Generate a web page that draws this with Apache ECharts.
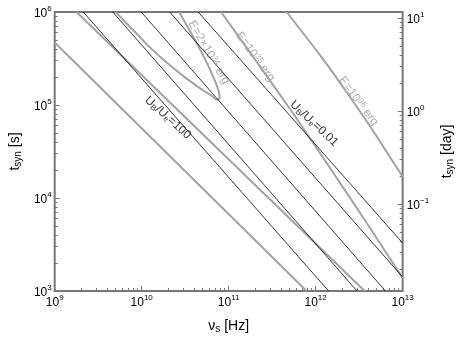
<!DOCTYPE html>
<html>
<head>
<meta charset="utf-8">
<script src="https://cdn.jsdelivr.net/npm/echarts@6/dist/echarts.min.js"></script>
</head>
<body style="margin:0;background:#fff">
<div id="chart" style="width:463px;height:341px"></div>
<script>
// values: [nu_s in Hz, t_syn in s]
// black lines of constant U_B/U_e (100, 10, 1, 0.1, 0.01)
var ratioLines = [
  [[2.13e9, 1e6], [1.41e12, 1e3]],
  [[4.65e9, 1e6], [2.99e12, 1e3]],
  [[9.89e9, 1e6], [6.35e12, 1e3]],
  [[2.10e10, 1e6], [1e13, 1413]],
  [[4.47e10, 1e6], [1e13, 3281]]
];
// grey curves of constant energy
var e34 = [
  [5.01e9, 1e6], [7.87e9, 6.48e5], [1.27e10, 4.09e5], [2.10e10, 2.69e5],
  [3.48e10, 1.85e5], [5.07e10, 1.44e5], [6.36e10, 1.26e5], [7.39e10, 1.14e5],
  [7.87e10, 1.21e5], [7.58e10, 1.46e5], [6.86e10, 1.87e5], [5.75e10, 2.72e5],
  [4.47e10, 4.30e5], [3.48e10, 6.56e5], [2.70e10, 1e6]
];
var e35Lower = [[1.78e9, 1e6], [3.66e12, 1e3]];
var e35Upper = [[8.18e10, 1e6], [2.13e11, 2.86e5], [5.54e11, 8.06e4], [1.51e12, 2.01e4], [3.94e12, 5.26e3], [1e13, 1380]];
var e36Lower = [[1e9, 4.69e5], [7.87e11, 1e3]];
var e36Upper = [[4.64e11, 1e6], [1.18e12, 3.23e5], [2.70e12, 1.09e5], [5.33e12, 4.23e4], [1e13, 1.69e4]];

// curve labels, anchored in data space
var notes = [
  {text: '{t|U}{sb|B}{t|/U}{sb|e}{t|=100}', at: [2.0e10, 7.3e4], rot: -42, color: '#000'},
  {text: '{t|U}{sb|B}{t|/U}{sb|e}{t|=0.01}', at: [9.6e11, 6.3e4], rot: -43, color: '#000'},
  {text: '{t|E=2\u00d710}{sp|34}{t| erg}', at: [5.9e10, 3.67e5], rot: -60, color: '#999'},
  {text: '{t|E=10}{sp|35}{t| erg}', at: [2.02e11, 3.31e5], rot: -54, color: '#999'},
  {text: '{t|E=10}{sp|36}{t| erg}', at: [3.1e12, 1.1e5], rot: -53, color: '#999'}
];

var DAY = 86400;
var FONT = 'Liberation Sans, Arial, Helvetica, sans-serif';
var AXIS_COLOR = '#777';

function powLabel(v) {
  var e = Math.round(Math.log(v) / Math.LN10);
  return '{b|10}{s|' + (e < 0 ? '\u2212' + (-e) : e) + '}';
}
var powRich = {
  b: {fontSize: 12, fontFamily: FONT, color: '#000', padding: [3, 0, 0, 0]},
  s: {fontSize: 8, fontFamily: FONT, color: '#000', verticalAlign: 'top'}
};

function minors(lo, hi, min, max) {
  var out = [];
  for (var e = lo; e < hi; e++) {
    for (var m = 2; m <= 9; m++) {
      var v = m * Math.pow(10, e);
      if (v > min && v < max) out.push(v);
    }
  }
  return out;
}

function tickAxis(extra) {
  var a = {
    type: 'log', logBase: 10,
    axisLine: {show: false},
    splitLine: {show: false},
    axisTick: {show: true, inside: true, length: 5, lineStyle: {color: AXIS_COLOR, width: 1}},
    axisLabel: {show: false}
  };
  for (var k in extra) a[k] = extra[k];
  return a;
}

var xMin = 1e9, xMax = 1e13, yMin = 1e3, yMax = 1e6;

var nameRich = {
  n: {fontSize: 14, fontFamily: FONT, color: '#000'},
  sb: {fontSize: 10, fontFamily: FONT, color: '#000', verticalAlign: 'bottom', padding: [6, 0, 0, 0]}
};

var xAxes = [
  tickAxis({
    min: xMin, max: xMax, position: 'bottom',
    axisLabel: {show: true, formatter: powLabel, rich: powRich, margin: 3},
    name: '{n|\u03bd}{sb|s}{n| [Hz]}', nameLocation: 'middle', nameGap: 27,
    nameTextStyle: {rich: nameRich}
  }),
  tickAxis({
    min: xMin, max: xMax, position: 'bottom',
    axisTick: {show: true, inside: true, length: 3, customValues: minors(9, 13, xMin, xMax),
      lineStyle: {color: AXIS_COLOR, width: 1}}
  })
];

var yAxes = [
  tickAxis({
    min: yMin, max: yMax, position: 'left',
    axisLabel: {show: true, formatter: powLabel, rich: powRich, margin: 3},
    name: '{n|t}{sb|syn}{n| [s]}', nameLocation: 'middle', nameGap: 28, nameRotate: 90,
    nameTextStyle: {rich: nameRich}
  }),
  tickAxis({
    min: yMin, max: yMax, position: 'left',
    axisTick: {show: true, inside: true, length: 3, customValues: minors(3, 6, yMin, yMax),
      lineStyle: {color: AXIS_COLOR, width: 1}}
  }),
  tickAxis({
    min: yMin / DAY, max: yMax / DAY, position: 'right',
    axisTick: {show: true, inside: true, length: 5, customValues: [0.1, 1, 10],
      lineStyle: {color: AXIS_COLOR, width: 1}},
    axisLabel: {show: true, customValues: [0.1, 1, 10], formatter: powLabel, rich: powRich, margin: 4},
    name: '{n|t}{sb|syn}{n| [day]}', nameLocation: 'middle', nameGap: 25, nameRotate: 90,
    nameTextStyle: {rich: nameRich}
  }),
  tickAxis({
    min: yMin / DAY, max: yMax / DAY, position: 'right',
    axisTick: {show: true, inside: true, length: 3, customValues: minors(-2, 1, yMin / DAY, yMax / DAY),
      lineStyle: {color: AXIS_COLOR, width: 1}}
  })
];

function line(pts, color, width, smooth) {
  return {
    type: 'line', data: pts, xAxisIndex: 0, yAxisIndex: 0,
    symbol: 'none', smooth: smooth || false, clip: true, silent: true,
    lineStyle: {color: color, width: width}
  };
}

var series = [];
var GREY = '#a3a3a3';
series.push(line(e36Lower, GREY, 2));
series.push(line(e36Upper, GREY, 2, 0.2));
series.push(line(e35Lower, GREY, 2));
series.push(line(e35Upper, GREY, 2, 0.2));
series.push(line(e34, GREY, 2, 0.5));
ratioLines.forEach(function (l) { series.push(line(l, '#000', 0.8)); });

notes.forEach(function (n) {
  series.push({
    type: 'scatter', xAxisIndex: 0, yAxisIndex: 0, symbolSize: 1,
    itemStyle: {color: 'rgba(0,0,0,0)'}, silent: true,
    data: [n.at],
    label: {
      show: true, position: 'inside', rotate: n.rot, formatter: n.text,
      rich: {
        t: {fontSize: 12, fontFamily: FONT, color: n.color},
        sb: {fontSize: 8, fontFamily: FONT, color: n.color, verticalAlign: 'bottom', padding: [5, 0, 0, 0]},
        sp: {fontSize: 8, fontFamily: FONT, color: n.color, verticalAlign: 'top', padding: [0, 0, 4, 0]}
      }
    }
  });
});

var chart = echarts.init(document.getElementById('chart'));
chart.setOption({
  animation: false,
  backgroundColor: '#fff',
  grid: {left: 49, right: 48, top: 12, bottom: 50, show: true,
    borderColor: AXIS_COLOR, borderWidth: 2, backgroundColor: 'transparent'},
  xAxis: xAxes,
  yAxis: yAxes,
  series: series
});
</script>
</body>
</html>
